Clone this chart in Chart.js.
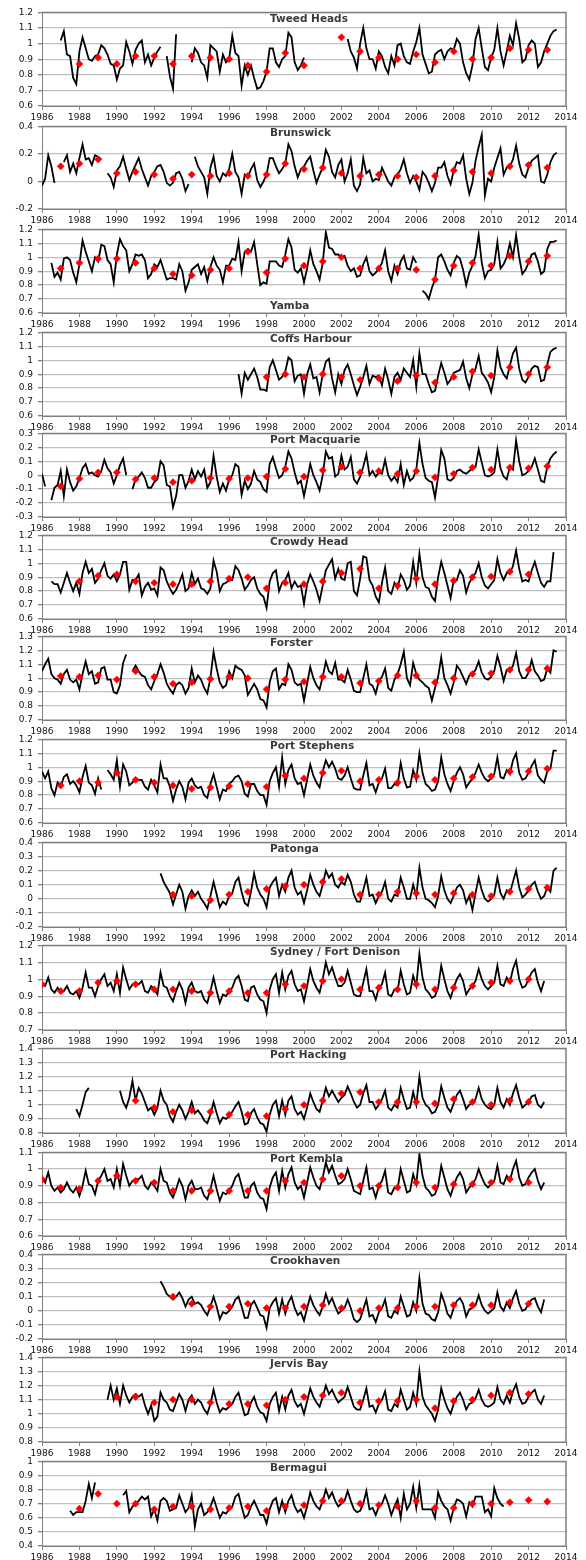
<!DOCTYPE html>
<html>
<head>
<meta charset="utf-8">
<script src="https://cdn.jsdelivr.net/npm/chart.js@4.4.1/dist/chart.umd.min.js"></script>
<style>
  html, body { margin: 0; padding: 0; background: #fff; }
  #wrap { position: relative; width: 586px; height: 1560px; overflow: hidden; }
</style>
</head>
<body>
<div id="wrap"></div>
<script>
// values every 2 months, starting at the given year
const tweedStart = 1987;
const tweedVals = [
  1.02,1.08,0.93,0.92,0.78,0.74, 0.95,1.04,0.97,0.90,0.89,0.92, 0.93,0.99,0.97,0.93,0.87,0.86,
  0.77,0.84,0.86,1.01,0.95,0.87, 0.96,1.00,1.02,0.88,0.93,0.86, 0.91,0.95,0.98,null,0.92,0.79,
  0.71,1.06,null,null,null,null, 0.88,0.97,0.94,0.88,0.86,0.78, 0.99,0.97,0.95,0.82,0.93,0.88,
  0.90,1.05,0.94,0.92,0.73,0.86, 0.80,0.86,0.78,0.71,0.72,0.76, 0.82,0.97,0.97,0.88,0.85,0.90,
  0.92,1.07,1.04,0.88,0.83,0.86, 0.91,null,null,null,null,null, null,null,null,null,null,null,
  null,null,1.03,0.95,0.91,0.84, 1.00,1.10,0.97,0.90,0.90,0.84, 0.95,0.92,0.85,0.81,0.92,0.86,
  0.99,1.00,0.92,0.88,0.87,0.95, 1.01,1.10,0.93,0.87,0.81,0.82, 0.93,0.95,0.96,0.90,0.95,0.97,
  0.96,1.03,1.00,0.88,0.81,0.77, 0.86,1.03,1.10,0.97,0.85,0.83, 0.91,0.96,1.10,0.95,0.86,0.95,
  1.05,0.99,1.13,1.03,0.88,0.90, 0.99,1.02,1.00,0.85,0.88,0.95, 1.00,1.05,1.08,1.09
];
const tweedMeanYears = [1988,1989,1990,1991,1992,1993,1994,1995,1996,1997,1998,1999,2000,
  2002,2003,2004,2005,2006,2007,2008,2009,2010,2011,2012,2013];
const tweedMeans = [0.87,0.91,0.87,0.92,0.92,0.87,0.92,0.91,0.90,0.86,0.82,0.94,0.86,
  1.04,0.95,0.91,0.90,0.93,0.88,0.95,0.90,0.91,0.97,0.96,0.96];

const brunswickStart = 1986;
const brunswickVals = [
  -0.03,0.02,0.19,0.11,-0.01,null, null,0.14,0.19,0.07,0.13,0.06, 0.17,0.27,0.16,0.17,0.12,0.19,
  0.18,0.16,null,0.06,0.03,-0.04, 0.08,0.11,0.18,0.09,0.01,0.07, 0.12,0.17,0.09,0.03,-0.03,0.04,
  0.07,0.11,0.12,0.07,-0.01,-0.03, -0.01,0.06,0.07,0.02,-0.07,-0.02, null,0.18,0.11,0.07,0.03,-0.09,
  0.10,0.18,0.04,0.00,0.06,0.04, 0.09,0.20,0.07,0.03,-0.09,0.05, 0.03,0.09,0.13,0.01,-0.04,0.00,
  0.05,0.17,0.17,0.11,0.06,0.09, 0.13,0.27,0.22,0.11,0.03,0.09, 0.11,0.15,0.18,0.08,-0.01,0.05,
  0.10,0.23,0.18,0.07,0.03,0.12, 0.16,0.00,0.06,0.16,-0.03,-0.07, -0.02,0.17,0.06,0.08,0.00,0.02,
  0.01,0.10,0.05,0.00,-0.03,0.03, 0.05,0.09,0.16,0.06,-0.01,0.04, 0.00,-0.06,0.07,0.04,-0.01,-0.07,
  -0.01,0.10,0.10,0.14,0.04,-0.02, 0.08,0.14,0.13,0.19,0.02,-0.09, -0.01,0.15,0.25,0.34,-0.10,0.02,
  0.00,0.10,0.17,0.24,0.05,0.10, 0.11,0.16,0.26,0.13,0.05,0.03, 0.10,0.15,0.17,0.19,0.00,-0.01,
  0.05,0.14,0.19,0.21
];
const brunswickMeanYears = [1987,1988,1989,1990,1991,1992,1993,1994,1995,1996,1997,1998,1999,2000,
  2001,2002,2003,2004,2005,2006,2007,2008,2009,2010,2011,2012,2013];
const brunswickMeans = [0.11,0.13,0.16,0.06,0.07,0.05,0.02,0.05,0.04,0.06,0.04,0.05,0.13,0.09,
  0.10,0.06,0.04,0.05,0.04,0.03,0.04,0.08,0.07,0.06,0.11,0.12,0.10];

const yambaStart = 1986;
const yambaVals = [
  null,null,null,0.96,0.86,0.89, 0.84,0.99,1.00,0.98,0.89,0.82, 0.95,1.12,1.04,0.97,0.90,1.00,
  0.97,1.09,1.08,0.98,0.95,0.82, 1.02,1.13,1.08,1.05,0.90,0.95, 1.02,1.01,1.02,0.98,0.85,0.88,
  0.95,0.93,0.98,0.91,0.84,0.85, 0.85,0.84,0.95,0.90,0.76,0.82, 0.91,0.93,0.95,0.88,0.93,0.83,
  0.93,1.00,0.94,0.91,0.82,0.94, 0.94,0.99,0.98,1.11,0.90,1.04, 1.06,1.04,1.11,0.95,0.80,0.82,
  0.81,0.97,0.97,0.97,0.94,0.93, 1.02,1.13,1.07,0.91,0.89,0.92, 0.82,0.92,1.05,0.95,0.90,0.84,
  0.96,1.18,1.07,1.06,1.02,1.02, 1.00,1.01,0.94,0.90,0.92,0.86, 0.87,0.95,1.00,0.90,0.87,0.89,
  0.92,0.96,1.05,0.90,0.83,0.94, 0.88,0.97,1.01,0.92,0.91,1.00, 0.96,null,0.76,0.74,0.70,0.78,
  0.84,1.00,1.02,0.97,0.91,0.87, 0.96,1.01,0.99,0.91,0.80,0.89, 0.94,1.01,1.16,0.96,0.85,0.90,
  0.91,0.95,1.11,0.92,0.95,1.00, 1.10,1.00,1.16,1.00,0.88,0.91, 0.96,1.02,1.03,0.97,0.88,0.90,
  1.06,1.11,1.11,1.12
];
const yambaMeanYears = [1987,1988,1989,1990,1991,1992,1993,1994,1995,1996,1997,1998,1999,2000,
  2001,2002,2003,2004,2005,2006,2007,2008,2009,2010,2011,2012,2013];
const yambaMeans = [0.92,0.96,0.99,0.99,0.96,0.92,0.88,0.87,0.91,0.92,1.04,0.89,0.99,0.94,
  0.97,1.00,0.92,0.92,0.92,0.91,0.84,0.94,0.96,0.94,1.01,0.97,1.01];

const coffsStart = 1996;
const coffsVals = [
  null,null,null,0.90,0.76,0.91, 0.86,0.90,0.94,0.88,0.79,0.79, 0.78,0.95,1.00,0.93,0.86,0.88,
  0.92,1.02,1.00,0.85,0.89,0.90, 0.76,0.90,0.97,0.87,0.88,0.77, 0.90,0.99,1.01,0.87,0.77,0.90,
  0.83,0.93,0.97,0.90,0.82,0.75, 0.81,0.88,0.96,0.83,0.89,0.88, 0.89,0.82,0.94,0.86,0.76,0.88,
  0.91,0.86,0.94,0.91,0.88,1.00, 0.81,1.05,0.90,0.90,0.83,0.77, 0.78,0.89,0.98,0.91,0.83,0.86,
  0.91,0.92,0.93,0.99,0.87,0.80, 0.90,0.94,1.03,0.91,0.88,0.84, 0.77,0.88,1.07,0.95,0.90,0.87,
  0.96,1.05,1.09,0.94,0.86,0.84, 0.88,0.94,0.96,0.95,0.85,0.86, 0.97,1.06,1.08,1.09
];
const coffsMeanYears = [1998,1999,2000,2001,2002,2003,2004,2005,2006,2007,2008,2009,2010,2011,2012,2013];
const coffsMeans = [0.88,0.90,0.88,0.90,0.88,0.86,0.87,0.85,0.89,0.84,0.88,0.92,0.89,0.95,0.90,0.95];

const macqStart = 1986;
const macqVals = [
  0.01,-0.08,null,-0.18,-0.09,-0.07, 0.03,-0.15,0.04,-0.05,-0.11,-0.08, -0.02,0.05,0.08,0.01,0.02,0.00,
  -0.01,0.03,0.11,0.05,0.02,-0.06, 0.00,0.07,0.12,0.00,null,-0.10, -0.03,-0.01,0.02,-0.02,-0.09,-0.09,
  -0.05,-0.03,0.10,0.07,-0.07,-0.08, -0.23,-0.15,0.00,0.00,-0.09,-0.04, 0.04,-0.03,0.03,-0.01,0.04,-0.09,
  -0.05,0.14,-0.01,-0.12,-0.06,-0.11, -0.03,0.00,0.08,0.06,-0.14,-0.04, -0.10,-0.06,0.03,-0.03,-0.05,-0.10,
  -0.12,0.08,0.13,0.05,-0.02,0.00, 0.06,0.17,0.12,0.02,-0.06,-0.04, -0.15,-0.04,0.08,0.00,-0.05,-0.11,
  0.00,0.17,0.12,0.13,-0.01,0.01, 0.14,0.04,0.06,0.13,-0.03,-0.06, -0.01,0.06,0.15,0.00,0.03,-0.01,
  0.02,0.01,0.11,0.00,-0.04,-0.01, -0.05,0.08,-0.07,0.03,-0.04,-0.02, 0.04,0.23,0.08,-0.02,-0.04,-0.05,
  -0.16,-0.01,0.18,0.12,-0.03,-0.04, -0.02,0.03,0.04,0.02,0.01,0.03, 0.05,0.06,0.185,0.09,0.00,-0.01,
  0.00,0.02,0.185,0.05,-0.01,-0.03, 0.06,0.04,0.25,0.10,0.00,0.01, 0.03,0.06,0.12,0.04,-0.04,-0.05,
  0.06,0.12,0.15,0.17
];
const macqMeanYears = [1987,1988,1989,1990,1991,1992,1993,1994,1995,1996,1997,1998,1999,2000,
  2001,2002,2003,2004,2005,2006,2007,2008,2009,2010,2011,2012,2013];
const macqMeans = [-0.08,-0.025,0.02,0.02,-0.03,-0.02,-0.05,-0.04,-0.02,-0.025,-0.02,-0.01,0.045,-0.01,
  0.035,0.06,0.02,0.03,0.01,0.03,-0.015,0.01,0.055,0.04,0.055,0.05,0.065];

const crowdyStart = 1986;
const crowdyVals = [
  null,null,null,0.87,0.85,0.85, 0.79,0.86,0.93,0.86,0.80,0.86, 0.78,0.93,1.01,0.93,0.96,0.86,
  0.89,0.95,1.00,0.91,0.89,0.92, 0.87,0.92,1.01,1.01,0.81,0.88, 0.88,0.92,0.77,0.83,0.86,0.81,
  0.82,0.77,0.97,0.95,0.87,0.82, 0.78,0.81,0.86,0.92,0.80,0.82, 0.93,0.85,0.89,0.82,0.81,0.78,
  0.82,1.02,0.94,0.80,0.85,0.86, 0.88,0.88,0.98,0.95,0.89,0.81, 0.84,0.88,0.90,0.82,0.78,0.76,
  0.68,0.87,0.93,0.95,0.80,0.86, 0.88,0.93,0.82,0.87,0.83,0.84, 0.71,0.85,0.92,0.87,0.81,0.73,
  0.84,0.95,0.99,1.03,0.89,0.96, 0.89,0.88,1.00,1.01,0.80,0.77, 0.89,1.05,1.04,0.88,0.84,0.76,
  0.72,0.86,0.97,0.80,0.78,0.86, 0.82,0.92,0.88,0.81,0.84,1.01, 0.86,1.07,0.90,0.83,0.82,0.76,
  0.73,0.90,1.01,0.93,0.84,0.75, 0.88,0.88,0.95,0.91,0.79,0.86, 0.90,0.93,1.00,0.90,0.84,0.82,
  0.85,0.88,1.03,0.93,0.88,0.93, 0.93,0.98,1.09,0.96,0.87,0.88, 0.87,0.95,1.01,0.93,0.86,0.83,
  0.87,0.87,1.08
];
const crowdyMeanYears = [1988,1989,1990,1991,1992,1993,1994,1995,1996,1997,1998,1999,2000,
  2001,2002,2003,2004,2005,2006,2007,2008,2009,2010,2011,2012];
const crowdyMeans = [0.87,0.91,0.92,0.87,0.86,0.85,0.85,0.87,0.89,0.90,0.82,0.86,0.85,
  0.87,0.93,0.96,0.82,0.84,0.89,0.85,0.875,0.90,0.905,0.94,0.92];

const forsterStart = 1986;
const forsterVals = [
  1.05,1.10,1.14,1.03,1.00,0.99, 0.96,1.03,1.06,0.99,0.97,0.99, 0.92,1.03,1.12,1.03,1.05,0.96,
  0.97,1.07,1.08,0.99,0.99,0.90, 0.89,0.95,1.11,1.17,null,1.05, 1.09,1.05,1.02,1.01,0.95,0.92,
  0.98,1.03,1.10,1.04,0.96,0.92, 0.89,0.95,0.97,0.95,0.89,0.93, 1.07,0.97,1.02,0.99,0.93,0.89,
  1.00,1.19,1.07,0.97,0.93,0.95, 1.05,1.00,1.09,1.07,1.06,1.02, 0.88,0.92,0.96,0.92,0.85,0.84,
  0.79,0.97,1.05,1.07,0.92,0.96, 0.95,1.10,1.06,0.97,0.95,0.96, 0.84,0.96,1.08,1.00,0.95,0.92,
  1.01,1.12,1.05,1.03,1.11,0.99, 0.99,0.97,1.06,0.99,0.91,0.90, 0.90,1.00,1.10,0.96,0.945,0.89,
  0.98,1.01,1.07,0.93,0.91,0.99, 1.03,1.10,1.19,1.00,0.95,1.11, 1.03,0.99,0.97,0.945,0.93,0.84,
  0.93,1.01,1.15,1.00,0.95,0.89, 0.97,1.09,1.06,1.01,0.96,1.02, 1.03,1.06,1.12,1.04,1.00,0.99,
  1.01,1.05,1.16,1.08,0.98,1.06, 1.05,1.09,1.18,1.05,1.00,1.00, 1.04,1.13,1.05,1.02,0.98,0.99,
  1.07,1.04,1.20,1.19
];
const forsterMeanYears = [1987,1988,1989,1990,1991,1992,1993,1994,1995,1996,1997,1998,1999,2000,
  2001,2002,2003,2004,2005,2006,2007,2008,2009,2010,2011,2012,2013];
const forsterMeans = [1.015,1.01,1.02,0.99,1.05,1.01,0.96,0.97,0.995,1.01,1.00,0.92,0.99,0.975,
  1.01,1.01,0.965,0.98,1.02,1.02,0.97,1.00,1.03,1.035,1.06,1.06,1.07];

const stephensStart = 1986;
const stephensVals = [
  0.97,0.92,0.97,0.85,0.80,0.89, 0.86,0.93,0.95,0.88,0.90,0.87, 0.82,0.93,1.01,0.89,0.87,0.81,
  0.92,0.84,null,0.98,0.95,0.91, 1.05,0.86,1.02,0.97,0.87,0.89, 0.92,0.91,0.91,0.86,0.84,0.91,
  0.87,0.82,1.02,0.92,0.92,0.86, 0.76,0.84,0.90,0.86,0.77,0.89, 0.92,0.87,0.85,0.86,0.80,0.78,
  0.88,0.95,0.86,0.77,0.84,0.83, 0.88,0.90,0.93,0.94,0.90,0.81, 0.79,0.88,0.88,0.83,0.80,0.80,
  0.73,0.90,0.96,1.00,0.86,1.07, 0.88,0.98,1.02,0.92,0.88,0.89, 0.80,0.91,1.02,0.94,0.89,0.855,
  0.97,1.05,1.00,1.04,0.99,0.92, 0.91,0.94,1.00,0.92,0.85,0.84, 0.84,0.94,1.03,0.87,0.88,0.82,
  0.89,0.92,0.99,0.85,0.85,0.88, 0.87,1.03,0.92,0.855,0.86,0.98, 0.91,1.10,0.96,0.88,0.86,0.83,
  0.84,0.90,1.07,0.95,0.88,0.83, 0.90,0.96,1.00,0.95,0.855,0.89, 0.92,0.96,1.02,0.96,0.92,0.90,
  0.92,0.95,1.07,0.93,0.92,0.98, 0.95,1.05,1.10,0.96,0.91,0.92, 0.96,1.01,1.05,0.94,0.91,0.89,
  0.97,0.99,1.12,1.12
];
const stephensMeanYears = [1987,1988,1989,1990,1991,1992,1993,1994,1995,1996,1997,1998,1999,2000,
  2001,2002,2003,2004,2005,2006,2007,2008,2009,2010,2011,2012,2013];
const stephensMeans = [0.87,0.90,0.89,0.96,0.91,0.89,0.87,0.845,0.855,0.865,0.88,0.86,0.94,0.92,
  0.96,0.975,0.90,0.91,0.89,0.935,0.91,0.92,0.93,0.935,0.97,0.97,0.99];

const patongaStart = 1992;
const patongaVals = [
  null,null,0.18,0.12,0.08,0.04, -0.04,0.03,0.10,0.05,-0.07,0.02, 0.06,0.02,0.05,0.00,-0.03,-0.07,
  0.02,0.12,0.03,-0.06,-0.02,-0.04, 0.02,0.04,0.12,0.15,0.05,-0.03, -0.05,0.05,0.18,0.08,0.03,0.00,
  -0.06,0.08,0.12,0.15,0.02,0.10, 0.05,0.15,0.20,0.08,0.03,0.05, -0.03,0.06,0.17,0.10,0.05,0.02,
  0.10,0.20,0.15,0.18,0.10,0.08, 0.12,0.10,0.17,0.12,0.03,-0.02, -0.02,0.06,0.15,0.02,0.03,-0.03,
  0.02,0.05,0.12,0.00,-0.02,0.03, 0.02,0.15,0.08,0.00,0.00,0.10, 0.02,0.22,0.08,0.00,-0.01,-0.03,
  -0.06,0.02,0.16,0.06,0.00,-0.03, 0.02,0.08,0.10,0.06,-0.03,0.02, -0.08,0.04,0.15,0.06,0.00,-0.02,
  0.00,0.03,0.15,0.04,0.00,0.06, 0.04,0.12,0.20,0.08,0.01,0.03, 0.06,0.10,0.12,0.05,0.00,0.02,
  0.08,0.05,0.20,0.22
];
const patongaMeanYears = [1993,1994,1995,1996,1997,1998,1999,2000,2001,2002,2003,2004,2005,
  2006,2007,2008,2009,2010,2011,2012,2013];
const patongaMeans = [0.03,0.02,-0.01,0.03,0.05,0.07,0.09,0.10,0.12,0.14,0.03,0.03,0.05,
  0.04,0.03,0.04,0.03,0.02,0.05,0.07,0.08];

const sydneyStart = 1986;
const sydneyVals = [
  0.97,0.96,1.01,0.94,0.92,0.95, 0.92,0.93,0.96,0.92,0.91,0.93, 0.89,0.95,1.04,0.95,0.95,0.90,
  0.96,1.00,1.03,0.96,0.98,0.93, 1.03,0.92,1.07,1.00,0.94,0.97, 0.98,0.97,0.99,0.93,0.92,0.96,
  0.94,0.91,1.04,0.96,0.95,0.90, 0.87,0.93,0.98,0.94,0.86,0.95, 0.98,0.93,0.92,0.93,0.88,0.86,
  0.93,1.01,0.93,0.86,0.91,0.90, 0.93,0.95,1.00,1.02,0.96,0.88, 0.87,0.95,0.96,0.91,0.88,0.87,
  0.80,0.94,1.00,1.03,0.92,1.04, 0.94,1.02,1.05,0.97,0.93,0.94, 0.87,0.96,1.06,0.99,0.95,0.92,
  1.00,1.10,1.03,1.07,1.01,0.96, 0.96,0.98,1.05,0.98,0.91,0.90, 0.90,0.98,1.06,0.93,0.93,0.88,
  0.95,0.97,1.04,0.91,0.90,0.94, 0.93,1.05,0.97,0.91,0.92,1.02, 0.96,1.15,1.01,0.94,0.92,0.89,
  0.90,0.95,1.08,1.00,0.93,0.89, 0.95,1.00,1.03,0.99,0.91,0.94, 0.96,0.99,1.06,1.00,0.96,0.94,
  0.96,0.98,1.08,0.97,0.96,1.01, 0.98,1.06,1.11,1.00,0.95,0.96, 1.00,1.04,1.06,0.98,0.93,0.99
];
const sydneyMeanYears = [1986,1987,1988,1989,1990,1991,1992,1993,1994,1995,1996,1997,1998,1999,
  2000,2001,2002,2003,2004,2005,2006,2007,2008,2009,2010,2011,2012];
const sydneyMeans = [0.97,0.93,0.93,0.98,0.99,0.97,0.94,0.94,0.93,0.92,0.93,0.92,0.92,0.97,
  0.96,0.99,1.00,0.94,0.95,0.94,0.97,0.94,0.95,0.96,0.98,0.99,1.00];

const hackingStart = 1987;
const hackingVals = [
  null,null,null,null,null,0.97, 0.92,1.00,1.09,1.12,null,null, null,null,null,null,null,null,
  null,1.10,1.02,0.98,1.05,1.17, 1.03,1.12,1.08,1.02,0.96,0.98, 0.93,0.98,1.10,1.03,1.00,0.92,
  0.88,0.95,1.00,0.96,0.90,0.95, 1.02,0.94,0.96,0.93,0.89,0.87, 0.93,1.02,0.94,0.87,0.91,0.90,
  0.92,0.95,0.99,1.02,0.95,0.86, 0.87,0.94,0.97,0.91,0.87,0.86, 0.81,0.93,1.00,1.03,0.92,1.03,
  0.93,1.03,1.06,0.97,0.93,0.95, 0.90,0.98,1.08,1.02,0.97,0.95, 1.03,1.12,1.06,1.10,1.06,1.02,
  1.05,1.07,1.13,1.08,1.02,0.98, 1.00,1.08,1.14,1.02,1.02,0.97, 1.00,1.04,1.10,0.98,0.96,1.00,
  0.98,1.12,1.04,0.97,0.98,1.09, 1.00,1.20,1.05,1.00,0.98,0.94, 0.95,1.00,1.13,1.05,0.98,0.95,
  1.01,1.07,1.10,1.04,0.97,1.00, 1.01,1.04,1.12,1.04,1.00,0.98, 0.97,1.00,1.12,1.02,0.98,1.04,
  1.00,1.08,1.14,1.05,0.98,1.00, 1.02,1.06,1.07,1.00,0.98,1.02
];
const hackingMeanYears = [1991,1992,1993,1994,1995,1996,1997,1998,1999,2000,2001,2002,2003,
  2004,2005,2006,2007,2008,2009,2010,2011,2012];
const hackingMeans = [1.03,0.98,0.95,0.96,0.95,0.93,0.93,0.92,0.97,1.00,1.03,1.08,1.09,
  1.02,1.02,1.02,1.01,1.04,1.02,1.00,1.03,1.02];

const kemblaStart = 1986;
const kemblaVals = [
  0.95,0.92,0.98,0.90,0.87,0.89, 0.86,0.88,0.92,0.88,0.86,0.89, 0.84,0.90,0.99,0.91,0.90,0.85,
  0.93,0.96,1.00,0.93,0.94,0.89, 1.00,0.90,1.03,0.96,0.90,0.93, 0.94,0.94,0.96,0.90,0.88,0.92,
  0.90,0.87,1.00,0.93,0.92,0.86, 0.83,0.88,0.94,0.90,0.82,0.90, 0.93,0.88,0.88,0.89,0.84,0.82,
  0.88,0.96,0.88,0.81,0.86,0.85, 0.87,0.90,0.95,0.97,0.90,0.83, 0.83,0.90,0.92,0.86,0.83,0.82,
  0.76,0.89,0.95,0.98,0.87,0.99, 0.89,0.97,1.01,0.92,0.88,0.90, 0.83,0.92,1.01,0.95,0.90,0.88,
  0.95,1.04,0.98,1.02,0.96,0.91, 0.92,0.94,1.00,0.94,0.87,0.86, 0.85,0.93,1.01,0.88,0.89,0.83,
  0.90,0.93,0.99,0.86,0.85,0.89, 0.88,1.00,0.93,0.86,0.87,0.97, 0.91,1.09,0.96,0.89,0.87,0.84,
  0.85,0.90,1.02,0.95,0.88,0.84, 0.90,0.95,0.98,0.94,0.86,0.89, 0.91,0.94,1.00,0.95,0.91,0.89,
  0.91,0.93,1.02,0.92,0.91,0.96, 0.93,1.00,1.05,0.95,0.90,0.91, 0.95,0.98,1.00,0.93,0.88,0.92
];
const kemblaMeanYears = [1986,1987,1988,1989,1990,1991,1992,1993,1994,1995,1996,1997,1998,1999,
  2000,2001,2002,2003,2004,2005,2006,2007,2008,2009,2010,2011,2012];
const kemblaMeans = [0.94,0.89,0.88,0.93,0.96,0.93,0.92,0.87,0.87,0.87,0.87,0.87,0.87,0.93,
  0.92,0.94,0.96,0.90,0.90,0.89,0.92,0.89,0.91,0.91,0.92,0.94,0.92];

const crookStart = 1992;
const crookVals = [
  null,null,0.21,0.17,0.12,0.10, 0.08,0.10,0.13,0.09,0.03,0.08, 0.10,0.05,0.06,0.04,0.00,-0.03,
  0.03,0.10,0.03,-0.06,-0.01,-0.02, 0.00,0.03,0.08,0.10,0.03,-0.05, -0.05,0.04,0.07,0.02,-0.03,-0.04,
  -0.12,0.02,0.06,0.09,-0.02,0.08, -0.02,0.06,0.10,0.02,-0.03,-0.01, -0.07,0.02,0.10,0.04,0.00,-0.03,
  0.03,0.12,0.05,0.09,0.03,-0.02, 0.00,0.02,0.08,0.02,-0.06,-0.08, -0.06,0.01,0.08,-0.04,-0.03,-0.08,
  -0.01,0.02,0.08,-0.04,-0.05,0.00, -0.02,0.10,0.03,-0.04,-0.03,0.06, 0.00,0.23,0.05,-0.02,-0.03,-0.06,
  -0.07,-0.01,0.12,0.06,-0.02,-0.05, 0.02,0.07,0.09,0.05,-0.04,0.01, 0.02,0.04,0.11,0.04,0.00,-0.02,
  0.00,0.02,0.13,0.03,0.00,0.06, 0.02,0.09,0.14,0.05,0.00,0.01, 0.05,0.08,0.09,0.03,-0.01,0.08
];
const crookMeanYears = [1993,1994,1995,1996,1997,1998,1999,2000,2001,2002,2003,2004,2005,
  2006,2007,2008,2009,2010,2011,2012];
const crookMeans = [0.10,0.05,0.03,0.03,0.05,0.02,0.02,0.03,0.04,0.02,0.00,0.02,0.02,
  0.03,0.03,0.04,0.04,0.04,0.06,0.05];

const jervisStart = 1989;
const jervisVals = [
  null,null,null,1.10,1.20,1.10, 1.18,1.07,1.20,1.13,1.08,1.12, 1.14,1.12,1.14,1.06,1.00,1.06,
  0.95,0.98,1.15,1.10,1.08,1.03, 1.02,1.08,1.14,1.10,1.02,1.10, 1.13,1.07,1.10,1.08,1.03,1.00,
  1.07,1.17,1.08,1.01,1.04,1.03, 1.05,1.07,1.12,1.15,1.07,0.99, 1.00,1.08,1.12,1.05,1.01,1.00,
  0.95,1.07,1.12,1.15,1.02,1.12, 1.03,1.13,1.17,1.09,1.05,1.07, 1.00,1.09,1.18,1.12,1.08,1.05,
  1.12,1.20,1.14,1.17,1.12,1.08, 1.10,1.12,1.19,1.12,1.05,1.03, 1.03,1.10,1.18,1.05,1.06,1.01,
  1.07,1.10,1.16,1.03,1.02,1.07, 1.05,1.17,1.10,1.03,1.05,1.15, 1.07,1.30,1.12,1.06,1.03,1.00,
  0.95,1.03,1.18,1.10,1.04,1.00, 1.07,1.12,1.15,1.10,1.03,1.07, 1.08,1.11,1.17,1.10,1.06,1.05,
  1.06,1.08,1.19,1.10,1.07,1.13, 1.08,1.16,1.21,1.12,1.07,1.08, 1.12,1.15,1.17,1.10,1.07,1.13
];
const jervisMeanYears = [1990,1991,1992,1993,1994,1995,1996,1997,1998,1999,2000,2001,2002,
  2003,2004,2005,2006,2007,2008,2009,2010,2011,2012];
const jervisMeans = [1.12,1.12,1.08,1.10,1.10,1.08,1.07,1.07,1.06,1.10,1.12,1.13,1.15,
  1.08,1.09,1.09,1.10,1.04,1.09,1.10,1.13,1.15,1.14];

const bermaguiStart = 1987;
const bermaguiVals = [
  null,null,null,0.65,0.62,0.64, 0.64,0.64,0.72,0.84,0.74,0.85, null,null,null,null,null,null,
  null,null,0.76,0.79,0.64,0.68, 0.70,0.72,0.75,0.73,0.75,0.61, 0.66,0.58,0.72,0.74,0.72,0.65,
  0.66,0.67,0.76,0.70,0.64,0.67, 0.76,0.54,0.66,0.70,0.62,0.64, 0.68,0.74,0.67,0.60,0.64,0.63,
  0.66,0.68,0.75,0.77,0.68,0.60, 0.62,0.68,0.72,0.67,0.62,0.62, 0.56,0.66,0.72,0.74,0.64,0.72,
  0.64,0.72,0.76,0.68,0.64,0.66, 0.60,0.68,0.78,0.72,0.68,0.66, 0.72,0.80,0.74,0.78,0.72,0.68,
  0.70,0.72,0.79,0.72,0.66,0.64, 0.65,0.70,0.79,0.66,0.67,0.62, 0.68,0.70,0.76,0.70,0.62,0.68,
  0.73,0.60,0.77,0.66,0.70,0.82, 0.67,0.83,0.66,0.66,0.66,0.66, 0.60,0.78,0.72,0.68,0.66,0.58,
  0.67,0.73,0.72,0.70,0.61,0.71, 0.68,0.75,0.75,0.75,0.64,0.66, 0.61,0.81,0.74,0.70,0.68
];
const bermaguiMeanYears = [1988,1989,1990,1991,1992,1993,1994,1995,1996,1997,1998,1999,2000,
  2001,2002,2003,2004,2005,2006,2007,2008,2009,2010,2011,2012,2013];
const bermaguiMeans = [0.665,0.77,0.70,0.70,0.66,0.68,0.68,0.66,0.67,0.68,0.65,0.68,0.69,
  0.72,0.72,0.70,0.69,0.68,0.72,0.67,0.67,0.70,0.70,0.71,0.725,0.715];

const panels = [
  { name: 'Tweed Heads', start: tweedStart, vals: tweedVals, my: tweedMeanYears, m: tweedMeans, min: 0.6, max: 1.2, top: 10, bottom: 106 },
  { name: 'Brunswick', start: brunswickStart, vals: brunswickVals, my: brunswickMeanYears, m: brunswickMeans, min: -0.2, max: 0.4, top: 124, bottom: 209 },
  { name: 'Yamba', start: yambaStart, vals: yambaVals, my: yambaMeanYears, m: yambaMeans, min: 0.6, max: 1.2, top: 227, bottom: 313, titleBottom: true },
  { name: 'Coffs Harbour', start: coffsStart, vals: coffsVals, my: coffsMeanYears, m: coffsMeans, min: 0.6, max: 1.2, top: 330, bottom: 416 },
  { name: 'Port Macquarie', start: macqStart, vals: macqVals, my: macqMeanYears, m: macqMeans, min: -0.3, max: 0.3, top: 431, bottom: 517 },
  { name: 'Crowdy Head', start: crowdyStart, vals: crowdyVals, my: crowdyMeanYears, m: crowdyMeans, min: 0.6, max: 1.2, top: 533, bottom: 619 },
  { name: 'Forster', start: forsterStart, vals: forsterVals, my: forsterMeanYears, m: forsterMeans, min: 0.7, max: 1.3, top: 634, bottom: 720 },
  { name: 'Port Stephens', start: stephensStart, vals: stephensVals, my: stephensMeanYears, m: stephensMeans, min: 0.6, max: 1.2, top: 737, bottom: 823 },
  { name: 'Patonga', start: patongaStart, vals: patongaVals, my: patongaMeanYears, m: patongaMeans, min: -0.2, max: 0.4, top: 840, bottom: 927 },
  { name: 'Sydney / Fort Denison', start: sydneyStart, vals: sydneyVals, my: sydneyMeanYears, m: sydneyMeans, min: 0.7, max: 1.2, top: 943, bottom: 1030 },
  { name: 'Port Hacking', start: hackingStart, vals: hackingVals, my: hackingMeanYears, m: hackingMeans, min: 0.8, max: 1.4, top: 1046, bottom: 1133 },
  { name: 'Port Kembla', start: kemblaStart, vals: kemblaVals, my: kemblaMeanYears, m: kemblaMeans, min: 0.6, max: 1.1, top: 1150, bottom: 1236 },
  { name: 'Crookhaven', start: crookStart, vals: crookVals, my: crookMeanYears, m: crookMeans, min: -0.2, max: 0.4, top: 1252, bottom: 1339 },
  { name: 'Jervis Bay', start: jervisStart, vals: jervisVals, my: jervisMeanYears, m: jervisMeans, min: 0.8, max: 1.4, top: 1355, bottom: 1442 },
  { name: 'Bermagui', start: bermaguiStart, vals: bermaguiVals, my: bermaguiMeanYears, m: bermaguiMeans, min: 0.4, max: 1.0, top: 1459, bottom: 1546 }
];

const PAD_TOP = 8, AXIS_H = 22, AXIS_W = 42, PLOT_RIGHT = 566, W = 586;
const tickFont = { family: 'DejaVu Sans', size: 9 };

// top/right frame and the station name
const framePlugin = {
  id: 'frame',
  afterDraw(chart) {
    const a = chart.chartArea, ctx = chart.ctx, p = chart.options.plugins.frame;
    ctx.save();
    ctx.strokeStyle = '#7f7f7f';
    ctx.lineWidth = 1.5;
    ctx.beginPath();
    ctx.moveTo(a.left, a.top);
    ctx.lineTo(a.right, a.top);
    ctx.lineTo(a.right, a.bottom);
    ctx.stroke();
    ctx.font = 'bold 10.5px "DejaVu Sans"';
    ctx.fillStyle = '#3a3a3a';
    ctx.textAlign = 'left';
    ctx.textBaseline = 'middle';
    ctx.fillText(p.name, 270, p.titleBottom ? a.bottom - 7 : a.top + 7);
    ctx.restore();
  }
};

const wrap = document.getElementById('wrap');

panels.forEach(p => {
  const h = PAD_TOP + (p.bottom - p.top) + AXIS_H;
  const canvas = document.createElement('canvas');
  canvas.width = W;
  canvas.height = h;
  canvas.style.cssText = 'position:absolute;left:0;top:' + (p.top - PAD_TOP) + 'px;width:' + W + 'px;height:' + h + 'px';
  wrap.appendChild(canvas);

  const line = p.vals.map((v, i) => ({ x: p.start + i / 6, y: v }));
  const means = p.my.map((yr, i) => ({ x: yr, y: p.m[i] }));

  new Chart(canvas.getContext('2d'), {
    type: 'line',
    data: {
      datasets: [
        { data: means, showLine: false, pointStyle: 'rectRot', pointRadius: 3.6,
          backgroundColor: '#ff0000', borderColor: '#ff0000', borderWidth: 0.5, order: 0 },
        { data: line, borderColor: '#000000', borderWidth: 1.8, pointRadius: 0,
          tension: 0, spanGaps: false, order: 1 }
      ]
    },
    options: {
      responsive: false,
      animation: false,
      devicePixelRatio: 1,
      events: [],
      layout: { padding: { top: PAD_TOP, right: W - PLOT_RIGHT, left: 0, bottom: 0 } },
      plugins: {
        legend: { display: false },
        tooltip: { enabled: false },
        frame: { name: p.name, titleBottom: !!p.titleBottom }
      },
      scales: {
        x: {
          type: 'linear', min: 1986, max: 2014,
          afterFit: s => { s.height = AXIS_H; },
          ticks: { stepSize: 2, autoSkip: false, maxRotation: 0, padding: 2,
                   color: '#111', font: tickFont, callback: v => String(v) },
          grid: { drawOnChartArea: false, tickLength: 4, tickColor: '#7f7f7f' },
          border: { color: '#7f7f7f', width: 1 }
        },
        y: {
          min: p.min, max: p.max,
          afterFit: s => { s.width = AXIS_W; },
          ticks: { stepSize: 0.1, padding: 5, color: '#111', font: tickFont,
                   callback: v => String(Math.round(v * 10) / 10) },
          grid: { color: '#c0c0c0', lineWidth: 1.3, tickLength: 4, tickColor: '#7f7f7f' },
          border: { color: '#7f7f7f', width: 1 }
        }
      }
    },
    plugins: [framePlugin]
  });
});
</script>
</body>
</html>
